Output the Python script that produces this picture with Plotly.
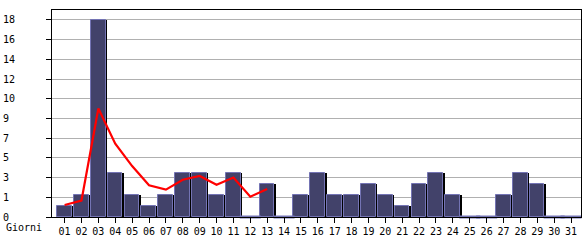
import plotly.graph_objects as go

days = list(range(1, 32))
day_labels = [f"{d:02d}" for d in days]
visits = [1, 2, 18, 4, 2, 1, 2, 4, 4, 2, 4, 0, 3, 0, 2, 4, 2, 2, 3, 2, 1, 3, 4, 2, 0, 0, 2, 4, 3, 0, 0]
trend_days = list(range(1, 14))
trend = [1.1, 1.5, 9.9, 6.7, 4.65, 2.9, 2.5, 3.4, 3.75, 2.95, 3.6, 1.85, 2.55]
y_tickvals = [0, 1.8, 3.6, 5.4, 7.2, 9.0, 10.8, 12.6, 14.4, 16.2, 18.0]
y_ticktext = ["0", "1", "3", "5", "7", "9", "10", "12", "14", "16", "18"]

FONT = "DejaVu Sans Mono"
NB = "\u00a0"

fig = go.Figure()
# shadow bars
fig.add_trace(go.Bar(x=days, y=visits, width=0.82, offset=-0.30,
                     marker=dict(color="#000000", line=dict(width=0)),
                     hoverinfo="skip", showlegend=False))
# main bars
fig.add_trace(go.Bar(x=days, y=visits, width=0.875, offset=-0.45,
                     marker=dict(color="#42426a", line=dict(color="#7474b4", width=1)),
                     showlegend=False))
# zero-value markers
zx = [d for d, v in zip(days, visits) if v == 0]
zy = [v for v in visits if v == 0]
fig.add_trace(go.Scatter(x=zx, y=zy, mode="markers",
                         marker=dict(symbol="line-ew", size=15,
                                     line=dict(color="#7474b4", width=3)),
                         cliponaxis=False, showlegend=False, hoverinfo="skip"))
# trend line
fig.add_trace(go.Scatter(x=trend_days, y=trend, mode="lines",
                         line=dict(color="#ff0000", width=2.2),
                         showlegend=False))

fig.update_layout(
    width=585, height=240,
    margin=dict(l=50, r=3, t=10, b=20),
    paper_bgcolor="white", plot_bgcolor="white",
    barmode="overlay", bargap=0,
    font=dict(family=FONT, size=10, color="black"),
    showlegend=False,
)
fig.update_xaxes(
    range=[0.253, 31.59], tickvals=days, ticktext=day_labels,
    showgrid=False, zeroline=False,
    showline=True, linecolor="black", linewidth=1, mirror=True,
    ticks="outside", ticklen=5, tickcolor="black", tickwidth=1,
    tickfont=dict(family=FONT, size=10, color="black"),
)
fig.update_yaxes(
    range=[0, 18.9], tickvals=y_tickvals,
    ticktext=[t + NB * (2 - len(t)) for t in y_ticktext],
    showgrid=True, gridcolor="#b0b0b0", gridwidth=1, zeroline=False,
    showline=True, linecolor="black", linewidth=1, mirror=True,
    ticks="outside", ticklen=5, tickcolor="black", tickwidth=1,
    ticklabelstandoff=29,
    tickfont=dict(family=FONT, size=10, color="black"),
)
fig.add_annotation(text="Giorni", xref="paper", yref="paper",
                   x=(2 - 50) / 532, y=(220 - 231) / 210,
                   xanchor="left", yanchor="middle", showarrow=False,
                   font=dict(family=FONT, size=10, color="black"))

fig.write_html("out.html")
